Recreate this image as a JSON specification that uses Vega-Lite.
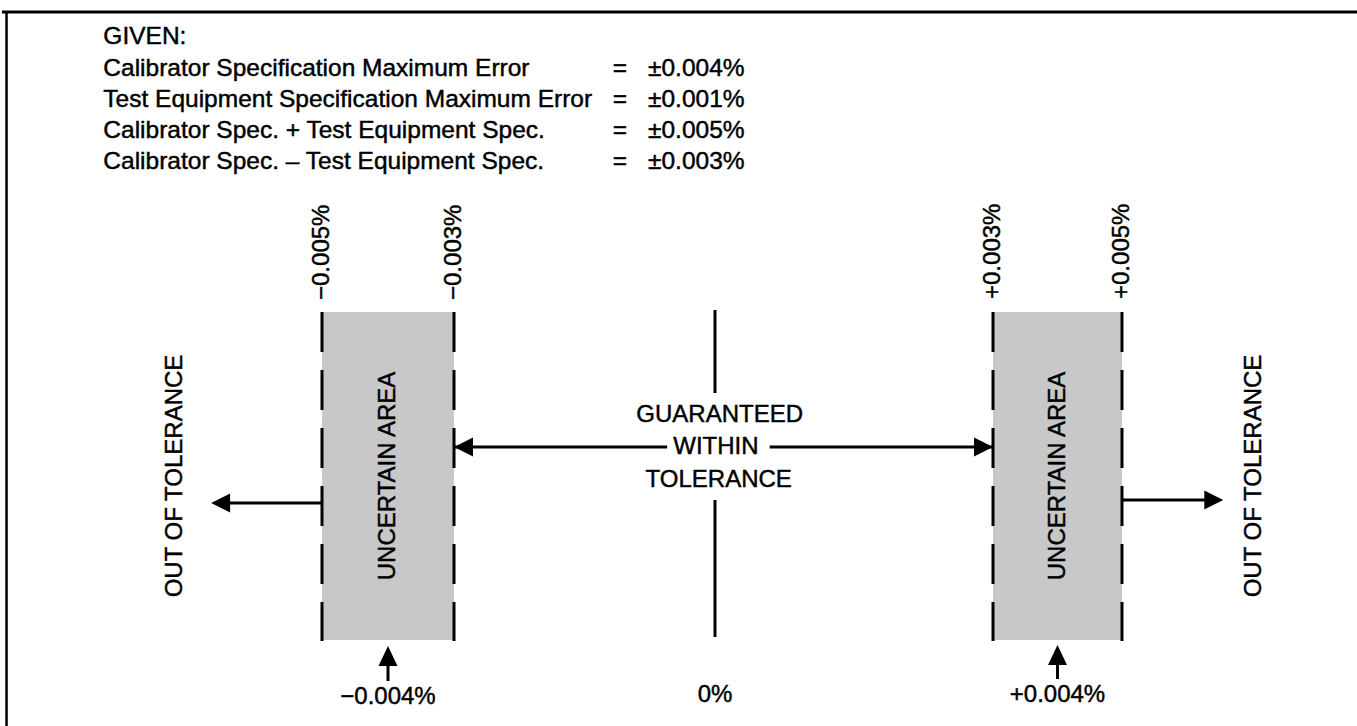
{
  "$schema": "https://vega.github.io/schema/vega-lite/v6.json",
  "width": 1348,
  "height": 714,
  "autosize": "none",
  "padding": {"left": 9, "top": 12, "right": 0, "bottom": 0},
  "background": "white",
  "config": {"view": {"stroke": null}, "font": "Liberation Sans", "text": {"stroke": "black", "strokeWidth": 0.45}},
  "encoding": {
    "x": {"field": "pct", "type": "quantitative", "axis": null,
      "scale": {"domain": [-0.005, -0.003, 0, 0.003, 0.005], "range": [313, 445, 706, 984, 1113], "nice": false, "zero": false}},
    "y": {"field": "y", "type": "quantitative", "axis": null,
      "scale": {"domain": [726, 12], "nice": false, "zero": false}}
  },
  "layer": [
    {
      "data": {"values": [{"pct": -0.00978, "y": 12, "y2": 740}]},
      "mark": {"type": "rule", "color": "black", "strokeWidth": 2.5},
      "encoding": {"y2": {"field": "y2"}}
    },
    {
      "data": {"values": [{"pct": -0.00985, "pct2": 0.0095, "y": 12}]},
      "mark": {"type": "rule", "color": "black", "strokeWidth": 3},
      "encoding": {"x2": {"field": "pct2"}}
    },
    {
      "data": {"values": [
        {"zone": "uncertain low", "pct": -0.005, "pct2": -0.003, "y": 312, "y2": 640},
        {"zone": "uncertain high", "pct": 0.003, "pct2": 0.005, "y": 312, "y2": 640}
      ]},
      "mark": {"type": "rect", "color": "#c8c8c8"},
      "encoding": {"x2": {"field": "pct2"}, "y2": {"field": "y2"}}
    },
    {
      "data": {"values": [
        {"pct": -0.005, "y": 312, "y2": 641},
        {"pct": -0.003, "y": 312, "y2": 641},
        {"pct": 0.003, "y": 312, "y2": 641},
        {"pct": 0.005, "y": 312, "y2": 641}
      ]},
      "mark": {"type": "rule", "color": "black", "strokeWidth": 3, "strokeDash": [40, 18]},
      "encoding": {"y2": {"field": "y2"}}
    },
    {
      "data": {"values": [
        {"pct": 0, "y": 310, "y2": 393},
        {"pct": 0, "y": 500, "y2": 637},
        {"pct": -0.004, "y": 660, "y2": 681},
        {"pct": 0.004, "y": 660, "y2": 679}
      ]},
      "mark": {"type": "rule", "color": "black", "strokeWidth": 3},
      "encoding": {"y2": {"field": "y2"}}
    },
    {
      "data": {"values": [
        {"pct": -0.003, "pct2": -0.00055, "y": 447},
        {"pct": 0.00059, "pct2": 0.003, "y": 447},
        {"pct": -0.005, "pct2": -0.0066, "y": 503},
        {"pct": 0.005, "pct2": 0.0065, "y": 500}
      ]},
      "mark": {"type": "rule", "color": "black", "strokeWidth": 3},
      "encoding": {"x2": {"field": "pct2"}}
    },
    {
      "data": {"values": [
        {"pct": -0.003, "y": 447, "dir": "left"},
        {"pct": 0.003, "y": 447, "dir": "right"},
        {"pct": -0.00668, "y": 503, "dir": "left"},
        {"pct": 0.00657, "y": 500, "dir": "right"},
        {"pct": -0.004, "y": 646, "dir": "up"},
        {"pct": 0.004, "y": 645, "dir": "up"}
      ]},
      "mark": {"type": "point", "filled": true, "color": "black", "opacity": 1, "size": 360, "strokeWidth": 0},
      "encoding": {
        "shape": {"field": "dir", "type": "nominal", "legend": null,
          "scale": {"domain": ["left", "right", "up"], "range": ["M0,0L2,-1L2,1Z", "M0,0L-2,-1L-2,1Z", "M0,0L-1,2.1L1,2.1Z"]}}
      }
    },
    {
      "data": {"values": [
        {"pct": -0.008313, "y": 37, "label": "GIVEN:"},
        {"pct": -0.008313, "y": 69, "label": "Calibrator Specification Maximum Error"},
        {"pct": -0.008313, "y": 100, "label": "Test Equipment Specification Maximum Error"},
        {"pct": -0.008313, "y": 131, "label": "Calibrator Spec. + Test Equipment Spec."},
        {"pct": -0.008313, "y": 162, "label": "Calibrator Spec. – Test Equipment Spec."}
      ]},
      "mark": {"type": "text", "align": "left", "baseline": "middle", "fontSize": 24.5, "color": "black"},
      "encoding": {"text": {"field": "label"}}
    },
    {
      "data": {"values": [
        {"pct": -0.001092, "y": 69, "label": "="},
        {"pct": -0.001092, "y": 100, "label": "="},
        {"pct": -0.001092, "y": 131, "label": "="},
        {"pct": -0.001092, "y": 162, "label": "="}
      ]},
      "mark": {"type": "text", "align": "center", "baseline": "middle", "fontSize": 24.5, "color": "black"},
      "encoding": {"text": {"field": "label"}}
    },
    {
      "data": {"values": [
        {"pct": -0.00077, "y": 69, "label": "±0.004%"},
        {"pct": -0.00077, "y": 100, "label": "±0.001%"},
        {"pct": -0.00077, "y": 131, "label": "±0.005%"},
        {"pct": -0.00077, "y": 162, "label": "±0.003%"}
      ]},
      "mark": {"type": "text", "align": "left", "baseline": "middle", "fontSize": 24.5, "color": "black"},
      "encoding": {"text": {"field": "label"}}
    },
    {
      "data": {"values": [
        {"pct": -0.005, "y": 300, "label": "−0.005%"},
        {"pct": -0.003, "y": 300, "label": "−0.003%"},
        {"pct": 0.003, "y": 299, "label": "+0.003%"},
        {"pct": 0.005, "y": 299, "label": "+0.005%"}
      ]},
      "mark": {"type": "text", "align": "left", "baseline": "middle", "angle": 270, "fontSize": 24, "color": "black"},
      "encoding": {"text": {"field": "label"}}
    },
    {
      "data": {"values": [
        {"pct": -0.004, "y": 476, "label": "UNCERTAIN AREA"},
        {"pct": 0.004, "y": 476, "label": "UNCERTAIN AREA"},
        {"pct": -0.00723, "y": 476, "label": "OUT OF TOLERANCE"},
        {"pct": 0.00705, "y": 476, "label": "OUT OF TOLERANCE"}
      ]},
      "mark": {"type": "text", "align": "center", "baseline": "middle", "angle": 270, "fontSize": 24, "color": "black"},
      "encoding": {"text": {"field": "label"}}
    },
    {
      "data": {"values": [
        {"pct": 0.00005, "y": 415, "label": "GUARANTEED"},
        {"pct": 0.00001, "y": 447, "label": "WITHIN"},
        {"pct": 0.00004, "y": 480, "label": "TOLERANCE"},
        {"pct": -0.004, "y": 697, "label": "−0.004%"},
        {"pct": 0, "y": 695, "label": "0%"},
        {"pct": 0.004, "y": 695, "label": "+0.004%"}
      ]},
      "mark": {"type": "text", "align": "center", "baseline": "middle", "fontSize": 24, "color": "black"},
      "encoding": {"text": {"field": "label"}}
    }
  ]
}
